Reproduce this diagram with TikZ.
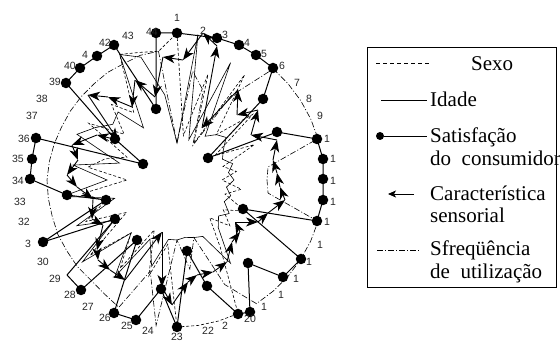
\documentclass[tikz,border=0pt]{standalone}
\usepackage{fontspec}
\setmainfont{Liberation Serif}
\newfontfamily\labfont{Liberation Sans}
\usetikzlibrary{arrows.meta,calc}
\begin{document}
\begin{tikzpicture}[x=1pt,y=-1pt,
  satline/.style={line width=1pt,black,line join=round},
  sdot/.style={circle,fill=black,inner sep=0pt,minimum size=10.5pt},
  arr/.style={line width=0.9pt,-{Stealth[length=12pt,width=9pt,inset=3.5pt]}},
  idade/.style={line width=0.6pt},
  sexo/.style={line width=0.6pt,dash pattern=on 3pt off 2pt},
  freq/.style={line width=0.6pt,dash pattern=on 6pt off 2pt on 1pt off 2pt},
  lab/.style={font=\labfont\fontsize{10.5}{12}\selectfont,inner sep=0pt,text=black!85},
  leg/.style={font=\fontsize{21}{22}\selectfont,inner sep=0pt,anchor=base west}]
\useasboundingbox (0,0) rectangle (560,344);
\coordinate (C) at (177,180);
% frequency of use (dash-dot)
\foreach \r [count=\k] in {37,110,93,38,100,147,147,147,147,147,92,90,92,147,147,147,147,147,147,115,60,90,60,147,95,140,135,132,132,131,131,130,130,130,129,128,127,127,127,127,128,128,130,130}
  {\coordinate (F\k) at ($(C)+({(\k-1)*360/44-90}:\r)$);}
\draw[freq] (F1) \foreach \k in {2,...,44}{ -- (F\k)} -- cycle;
% sex (dashed)
\foreach \r [count=\k] in {147,45,110,40,125,60,100,45,85,48,60,45,65,50,75,55,70,50,80,147,147,147,147,65,100,55,105,70,115,60,100,75,95,50,90,75,55,105,70,100,80,138,133,130}
  {\coordinate (X\k) at ($(C)+({(\k-1)*360/44-90}:\r)$);}
\draw[sexo] (X1) \foreach \k in {2,...,44}{ -- (X\k)} -- cycle;
% age (solid thin)
\foreach \r [count=\k] in {37,147,42,129,52,60,65,55,50,58,52,57,50,56,52,62,55,63,99,62,60,58,60,60,90,65,115,70,125,75,110,65,115,70,105,60,110,97,85,90,62,138,128,86}
  {\coordinate (I\k) at ($(C)+({(\k-1)*360/44-90}:\r)$);}
\draw[idade] (I1) \foreach \k in {2,...,44}{ -- (I\k)} -- cycle;
% sensory characteristic (arrows)
\foreach \px/\py [count=\k] in {183/60,203/33,217/46,202/128,238/90,237/115,258/110,251/135,277/140,273/160,277/173,280/187,285/200,268/213,258/222,235/222,240/232,232/242,227/262,213/272,197/275,188/282,172/305,162/287,162/232,125/280,110/270,98/260,97/250,103/225,92/219,93/199,77/187,67/175,78/160,72/145,97/135,118/140,88/95,108/97,132/107,135/80,155/97,163/57}
  {\coordinate (A\k) at (\px,\py);}
\foreach \k in {1,...,44}{\pgfmathtruncatemacro{\nx}{mod(\k,44)+1}\draw[arr] (A\nx) -- (A\k);}
% consumer satisfaction (dots)
\foreach \px/\py [count=\k] in {177/33,217/38,239/45,256/55,273/68,263/99,208/158,277/132,317/139,323/159,323/179,323/200,317/221,243/209,301/259,283/277,248/263,250/312,238/314,207/286,187/251,177/327,161/289,136/320,114/313,137/240,81/290,67/275,115/219,43/242,106/200,67/195,30/179,32/159,36/138,143/164,115/139,66/83,80/68,97/56,114/45,156/109,156/33}
  {\coordinate (S\k) at (\px,\py);}
\draw[satline] (S1) \foreach \k in {2,...,43}{ -- (S\k)} -- cycle;
\foreach \k in {1,...,27,29,30,...,43}{\node[sdot] (D\k) at (S\k) {};}
% axis labels
\foreach \t/\x/\y [count=\k] in {1/177/18,2/203/31,3/225/35,4/247/43,5/264/54,6/282/66,7/297/83,8/309/99,9/320/116,1/327/139,1/333/159,1/333/181,1/333/202,1/327/222,1/320/245,1/309/262,1/296/279,1/281/295,1/264/307,20/250/319,2/225/326,22/208/331,23/177/337,24/148/331,25/127/326,26/105/318,27/88/307,28/70/295,29/55/279,30/43/262,3/28/244,32/24/222,33/20/202,34/18/181,35/18/159,36/24/139,37/32/116,38/42/99,39/55/82,40/70/66,4/85/55,42/105/43,43/128/36,44/152/32}
  {\node[lab] (L\k) at (\x,\y) {\t};}
% legend
\draw[line width=0.8pt] (367,47) rectangle (556,287);
\coordinate (ga) at (376,63); \coordinate (gb) at (429,63);
\draw[line width=0.8pt,dash pattern=on 4pt off 3pt] (ga) -- (gb);
\node[leg] (t1) at (471,70.6) {Sexo};
\coordinate (ha) at (381,100); \coordinate (hb) at (427,100);
\draw[line width=0.8pt] (ha) -- (hb);
\node[leg] (t2) at (430,107) {Idade};
\node[sdot,minimum size=8pt] (ld) at (380,136) {};
\coordinate (lb) at (427,136);
\draw[line width=0.8pt] (ld) -- (lb);
\node[leg] (t3) at (430,143) {Satisfação};
\node[leg] (t4) at (430,166) {do\hspace{0.25em} consumidor};
\coordinate (ka) at (414,194); \coordinate (kb) at (388,194);
\draw[line width=0.9pt,-{Stealth[length=8pt,width=7pt,inset=2pt]}] (ka) -- (kb);
\node[leg] (t5) at (430,201) {Característica};
\node[leg] (t6) at (430,223) {sensorial};
\coordinate (ma) at (377,250); \coordinate (mb) at (420,250);
\draw[line width=0.8pt,dash pattern=on 6pt off 2pt on 1pt off 2pt] (ma) -- (mb);
\node[leg] (t7) at (430,256) {Sfreqüência};
\node[leg] (t8) at (430,279) {de\hspace{0.25em} utilização};
\end{tikzpicture}
\end{document}
